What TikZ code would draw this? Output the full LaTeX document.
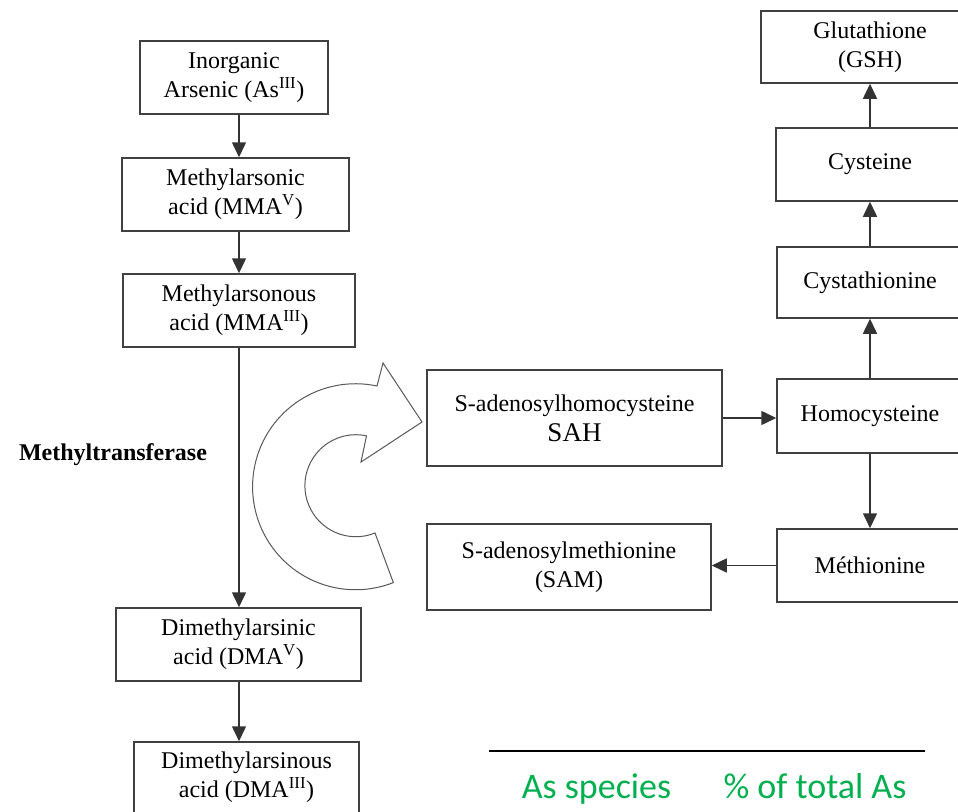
\documentclass[tikz,border=0pt]{standalone}
\usepackage{fontspec}
\setmainfont{Liberation Serif}
\newfontfamily\greenfont{Carlito}
\usetikzlibrary{arrows.meta}
\definecolor{officegreen}{HTML}{00B050}
\begin{document}
\begin{tikzpicture}[x=1pt,y=-1pt,
  box/.style={draw=black!75, line width=1.5pt, fill=white, inner sep=0pt, align=center,
    font=\fontsize{24}{29}\selectfont},
  arr/.style={draw=black!80, line width=1.5pt, -{Triangle[length=15pt,width=14pt]}},
  curvearrow/.style={draw=black!65, line width=1pt, fill=white, line join=miter},
  lbl/.style={font=\fontsize{24}{29}\selectfont\bfseries},
  greentxt/.style={text=officegreen, font=\greenfont\fontsize{36}{40}\selectfont, anchor=base, inner sep=0pt}
]
\useasboundingbox (0,0) rectangle (958,811);
\clip (0,0) rectangle (958,811);
\fill[white] (0,0) rectangle (958,811);

\coordinate (colL) at (239,0);
\coordinate (colR) at (870,0);

% left column
\node[box, minimum width=188pt, minimum height=73pt] (ias) at (234,77.5) {Inorganic\\Arsenic (As\textsuperscript{III})};
\node[box, minimum width=227pt, minimum height=73pt] (mmav) at (235.5,194.5) {Methylarsonic\\acid (MMA\textsuperscript{V})};
\node[box, minimum width=232pt, minimum height=73pt] (mmaiii) at (239,310.5) {Methylarsonous\\acid (MMA\textsuperscript{III})};
\node[box, minimum width=245pt, minimum height=73pt] (dmav) at (238.5,644.5) {Dimethylarsinic\\acid (DMA\textsuperscript{V})};
\node[box, minimum width=225pt, minimum height=71pt] (dmaiii) at (246.5,777.5) {Dimethylarsinous\\acid (DMA\textsuperscript{III})};

\node[lbl, anchor=center] (mt) at (113,455) {Methyltransferase};

\draw[arr] (colL |- ias.south) -- (colL |- mmav.north);
\draw[arr] (colL |- mmav.south) -- (colL |- mmaiii.north);
\draw[arr] (colL |- mmaiii.south) -- (colL |- dmav.north);
\draw[arr] (colL |- dmav.south) -- (colL |- dmaiii.north);

% right column
\node[box, minimum width=218pt, minimum height=72pt] (gsh) at (870,47) {Glutathione\\(GSH)};
\node[box, minimum width=188pt, minimum height=73pt] (cys) at (870,164.5) {Cysteine};
\node[box, minimum width=186pt, minimum height=71pt] (cysta) at (870,282.5) {Cystathionine};
\node[box, minimum width=186pt, minimum height=74pt] (hcy) at (870,416) {Homocysteine};
\node[box, minimum width=186pt, minimum height=73pt] (met) at (870,565.5) {Méthionine};

\node[box, minimum width=295pt, minimum height=96pt] (sah) at (574.5,418) {S-adenosylhomocysteine\\[1pt]{\fontsize{27}{29}\selectfont SAH}};
\node[box, minimum width=284pt, minimum height=86pt] (sam) at (569,567) {S-adenosylmethionine\\(SAM)};

\draw[arr] (colR |- hcy.north) -- (colR |- cysta.south);
\draw[arr] (colR |- cysta.north) -- (colR |- cys.south);
\draw[arr] (colR |- cys.north) -- (colR |- gsh.south);
\draw[arr] (colR |- hcy.south) -- (colR |- met.north);
\draw[arr] (sah.east) -- (sah.east -| hcy.west);
\draw[arr] (met.west) -- (met.west -| sam.east);

% curved arrow
\draw[curvearrow] (377,386) arc[start angle=-78, end angle=-291.5, radius=103]
  -- (375,533) arc[start angle=-292, end angle=-78, radius=51]
  -- (361,462) -- (422,422) -- (383,363) -- cycle;

% bottom table header
\coordinate (ruleL) at (489,751);
\coordinate (ruleR) at (925,751);
\draw[line width=2.5pt, black] (ruleL) -- (ruleR);
\node[greentxt] (hspec) at (596.5,798) {As species};
\node[greentxt] (htot) at (815,798) {\% of total As};
\end{tikzpicture}
\end{document}
